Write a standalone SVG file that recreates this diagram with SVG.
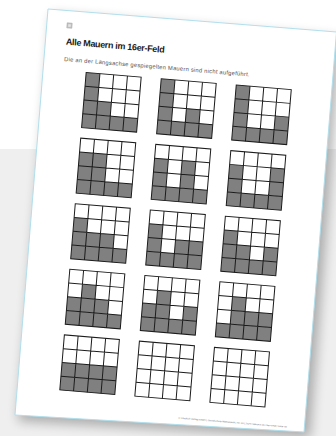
<svg xmlns="http://www.w3.org/2000/svg" xmlns:xlink="http://www.w3.org/1999/xlink" width="336" height="436" viewBox="0 0 336 436">
<style>
.g{fill:#808080}
.ln{fill:none;stroke:#1c1c1c;stroke-width:1}
.title{font-family:"Liberation Sans",Arial,sans-serif;font-weight:bold;font-size:9px;fill:#1a1a1a}
.sub{font-family:"Liberation Sans",Arial,sans-serif;font-size:5.8px;fill:#555}
.foot{font-family:"Liberation Sans",Arial,sans-serif;font-size:2.4px;fill:#666}
</style>
<defs>
<filter id="sh" x="-20%" y="-20%" width="140%" height="140%">
<feGaussianBlur stdDeviation="6"/>
</filter>
<g id="lines" class="ln">
<rect x="0" y="0" width="55.2" height="55.2"/>
<path d="M13.8 0V55.2M27.6 0V55.2M41.4 0V55.2M0 13.8H55.2M0 27.6H55.2M0 41.4H55.2"/>
</g>
</defs>
<rect x="0" y="0" width="336" height="436" fill="#ffffff"/>
<rect x="0" y="149" width="336" height="287" fill="#efefef"/>
<polygon points="52,14 342,38 310,438 18,421" fill="#000" opacity="0.28" filter="url(#sh)"/>
<polygon id="page" points="48,9 336.5,32 304,432 15,415" fill="#ffffff" stroke="#b2dfec" stroke-width="1"/>
<g id="content" transform="translate(48,9) rotate(4.75)">
<g id="icon"><rect x="20.3" y="12.2" width="5" height="5" fill="#c6c6c6" stroke="#9a9a9a" stroke-width="0.5"/><rect x="21.6" y="13.5" width="2.4" height="2.4" fill="#e6e6e6"/></g>
<text class="title" x="20.6" y="34" textLength="99">Alle Mauern im 16er-Feld</text>
<text class="sub" x="20.3" y="50.5" textLength="186">Die an der Längsachse gespiegelten Mauern sind nicht aufgeführt.</text>
<!-- row 1 -->
<g id="grid1" transform="translate(43.3,60.2)">
<rect class="g" x="0" y="0" width="13.8" height="41.4"/><rect class="g" x="13.8" y="27.6" width="13.8" height="13.8"/><rect class="g" x="0" y="41.4" width="55.2" height="13.8"/>
<use xlink:href="#lines"/></g>
<g id="grid2" transform="translate(118.6,60.2)">
<rect class="g" x="0" y="0" width="13.8" height="41.4"/><rect class="g" x="27.6" y="27.6" width="13.8" height="13.8"/><rect class="g" x="0" y="41.4" width="55.2" height="13.8"/>
<use xlink:href="#lines"/></g>
<g id="grid3" transform="translate(193.9,60.2)">
<rect class="g" x="0" y="0" width="13.8" height="41.4"/><rect class="g" x="41.4" y="27.6" width="13.8" height="13.8"/><rect class="g" x="0" y="41.4" width="55.2" height="13.8"/>
<use xlink:href="#lines"/></g>
<!-- row 2 -->
<g id="grid4" transform="translate(43.3,126)">
<rect class="g" x="0" y="13.8" width="27.6" height="27.6"/><rect class="g" x="0" y="41.4" width="55.2" height="13.8"/>
<use xlink:href="#lines"/></g>
<g id="grid5" transform="translate(118.6,126)">
<rect class="g" x="0" y="13.8" width="13.8" height="27.6"/><rect class="g" x="27.6" y="13.8" width="13.8" height="27.6"/><rect class="g" x="0" y="41.4" width="55.2" height="13.8"/>
<use xlink:href="#lines"/></g>
<g id="grid6" transform="translate(193.9,126)">
<rect class="g" x="0" y="13.8" width="13.8" height="27.6"/><rect class="g" x="41.4" y="13.8" width="13.8" height="27.6"/><rect class="g" x="0" y="41.4" width="55.2" height="13.8"/>
<use xlink:href="#lines"/></g>
<!-- row 3 -->
<g id="grid7" transform="translate(43.3,191.8)">
<rect class="g" x="0" y="13.8" width="13.8" height="13.8"/><rect class="g" x="0" y="27.6" width="41.4" height="13.8"/><rect class="g" x="0" y="41.4" width="55.2" height="13.8"/>
<use xlink:href="#lines"/></g>
<g id="grid8" transform="translate(118.6,191.8)">
<rect class="g" x="0" y="13.8" width="13.8" height="27.6"/><rect class="g" x="27.6" y="27.6" width="27.6" height="13.8"/><rect class="g" x="0" y="41.4" width="55.2" height="13.8"/>
<use xlink:href="#lines"/></g>
<g id="grid9" transform="translate(193.9,191.8)">
<rect class="g" x="0" y="13.8" width="13.8" height="13.8"/><rect class="g" x="0" y="27.6" width="27.6" height="13.8"/><rect class="g" x="41.4" y="27.6" width="13.8" height="13.8"/><rect class="g" x="0" y="41.4" width="55.2" height="13.8"/>
<use xlink:href="#lines"/></g>
<!-- row 4 -->
<g id="grid10" transform="translate(43.3,257.6)">
<rect class="g" x="13.8" y="13.8" width="13.8" height="13.8"/><rect class="g" x="0" y="27.6" width="41.4" height="13.8"/><rect class="g" x="0" y="41.4" width="55.2" height="13.8"/>
<use xlink:href="#lines"/></g>
<g id="grid11" transform="translate(118.6,257.6)">
<rect class="g" x="13.8" y="13.8" width="13.8" height="13.8"/><rect class="g" x="0" y="27.6" width="27.6" height="13.8"/><rect class="g" x="41.4" y="27.6" width="13.8" height="13.8"/><rect class="g" x="0" y="41.4" width="55.2" height="13.8"/>
<use xlink:href="#lines"/></g>
<g id="grid12" transform="translate(193.9,257.6)">
<rect class="g" x="13.8" y="13.8" width="13.8" height="13.8"/><rect class="g" x="13.8" y="27.6" width="41.4" height="13.8"/><rect class="g" x="0" y="41.4" width="55.2" height="13.8"/>
<use xlink:href="#lines"/></g>
<!-- row 5 -->
<g id="grid13" transform="translate(43.3,323.4)">
<rect class="g" x="0" y="27.6" width="55.2" height="27.6"/>
<use xlink:href="#lines"/></g>
<g id="grid14" transform="translate(118.6,323.4)">
<use xlink:href="#lines"/></g>
<g id="grid15" transform="translate(193.9,323.4)">
<use xlink:href="#lines"/></g>
<text class="foot" x="163.7" y="397.5" textLength="109">© Friedrich Verlag GmbH | Grundschule Mathematik | Nr. 00 | 2020 | Mauern im 16er-Feld | Seite 00</text>
</g>
</svg>
